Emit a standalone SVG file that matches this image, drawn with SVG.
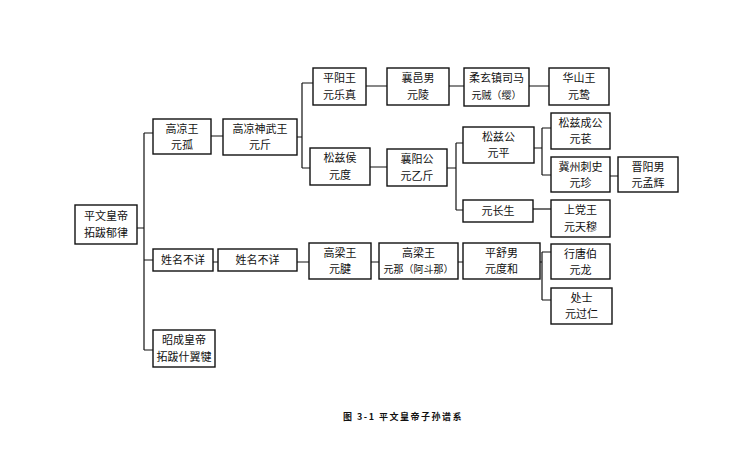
<svg xmlns="http://www.w3.org/2000/svg" width="743" height="459" viewBox="0 0 743 459">
<style>
.b{fill:#fff;stroke:#111;stroke-width:1.4}
.t{font-family:"Noto Sans CJK SC","Noto Sans CJK JP",sans-serif;font-size:11px;fill:#111;text-anchor:middle}
.s{font-size:10px}
.c{fill:none;stroke:#111;stroke-width:1.2}
.cap{font-family:"Noto Sans CJK SC",sans-serif;font-size:9px;fill:#111;font-weight:bold;letter-spacing:1.5px}
</style>
<rect width="743" height="459" fill="#fff"/>
<g id="connectors" class="c">
<path d="M137,228H144M144,133V350M144,133H153M144,260H153M144,350H153"/>
<path d="M211,136H223M297,137H302M302,83V168M302,83H313M302,168H310"/>
<path d="M366,86H387M449,86H464M529,86H549"/>
<path d="M370,167H387M447,168H456M456,143V210M456,143H463M456,210H463"/>
<path d="M534,148H542M542,128V175M542,128H551M542,175H551M610,176H618"/>
<path d="M533,209H551"/>
<path d="M213,262H218M297,262H309M371,262H379M458,262H463M540,262H542M542,252V300M542,252H551M542,300H551"/>
</g>
<g id="root"><rect class="b" x="75" y="205" width="62" height="39"/><text class="t" x="106" y="220">平文皇帝</text><text class="t" x="106" y="237">拓跋郁律</text></g>
<g id="gaoliangwang"><rect class="b" x="153" y="119" width="58" height="35"/><text class="t" x="182" y="133">高凉王</text><text class="t" x="182" y="149">元孤</text></g>
<g id="gaoliangshenwu"><rect class="b" x="223" y="119" width="74" height="36"/><text class="t" x="260" y="133">高凉神武王</text><text class="t" x="260" y="149">元斤</text></g>
<g id="pingyang"><rect class="b" x="313" y="68" width="53" height="37"/><text class="t" x="339.5" y="82">平阳王</text><text class="t" x="339.5" y="99">元乐真</text></g>
<g id="xiangyi"><rect class="b" x="387" y="68" width="62" height="37"/><text class="t" x="418" y="82">襄邑男</text><text class="t" x="418" y="99">元陵</text></g>
<g id="rouxuan"><rect class="b" x="464" y="68" width="65" height="38"/><text class="t" x="496.5" y="82">柔玄镇司马</text><text class="t s" x="496.5" y="99">元贼（缨）</text></g>
<g id="huashan"><rect class="b" x="549" y="68" width="60" height="37"/><text class="t" x="579" y="82">华山王</text><text class="t" x="579" y="99">元鸷</text></g>
<g id="songzihou"><rect class="b" x="310" y="148" width="60" height="37"/><text class="t" x="340" y="162">松兹侯</text><text class="t" x="340" y="179">元度</text></g>
<g id="xiangyang"><rect class="b" x="387" y="149" width="60" height="37"/><text class="t" x="417" y="163">襄阳公</text><text class="t" x="417" y="180">元乙斤</text></g>
<g id="songzigong"><rect class="b" x="463" y="127" width="71" height="36"/><text class="t" x="498.5" y="141">松兹公</text><text class="t" x="498.5" y="157">元平</text></g>
<g id="songzicheng"><rect class="b" x="551" y="113" width="59" height="36"/><text class="t" x="580.5" y="127">松兹成公</text><text class="t" x="580.5" y="143">元苌</text></g>
<g id="jizhou"><rect class="b" x="551" y="157" width="59" height="35"/><text class="t" x="580.5" y="171">冀州刺史</text><text class="t" x="580.5" y="187">元珍</text></g>
<g id="jinyang"><rect class="b" x="618" y="157" width="60" height="35"/><text class="t" x="648" y="171">晋阳男</text><text class="t" x="648" y="187">元孟辉</text></g>
<g id="changsheng"><rect class="b" x="463" y="200" width="70" height="22"/><text class="t" x="498" y="215">元长生</text></g>
<g id="shangdang"><rect class="b" x="551" y="200" width="59" height="37"/><text class="t" x="580.5" y="214">上党王</text><text class="t" x="580.5" y="231">元天穆</text></g>
<g id="unknown1"><rect class="b" x="153" y="249" width="60" height="22"/><text class="t" x="183" y="264">姓名不详</text></g>
<g id="unknown2"><rect class="b" x="218" y="249" width="79" height="22"/><text class="t" x="257.5" y="264">姓名不详</text></g>
<g id="gaoliang1"><rect class="b" x="309" y="243" width="62" height="36"/><text class="t" x="340" y="257">高梁王</text><text class="t" x="340" y="273">元腱</text></g>
<g id="gaoliang2"><rect class="b" x="379" y="243" width="79" height="36"/><text class="t" x="418.5" y="257">高梁王</text><text class="t s" x="418.5" y="273">元那（阿斗那）</text></g>
<g id="pingshu"><rect class="b" x="463" y="243" width="77" height="36"/><text class="t" x="501.5" y="257">平舒男</text><text class="t" x="501.5" y="273">元度和</text></g>
<g id="xingtang"><rect class="b" x="551" y="244" width="59" height="35"/><text class="t" x="580.5" y="258">行唐伯</text><text class="t" x="580.5" y="274">元龙</text></g>
<g id="chushi"><rect class="b" x="551" y="288" width="61" height="36"/><text class="t" x="581.5" y="302">处士</text><text class="t" x="581.5" y="318">元过仁</text></g>
<g id="zhaocheng"><rect class="b" x="153" y="330" width="62" height="37"/><text class="t" x="184" y="344">昭成皇帝</text><text class="t" x="184" y="361">拓跋什翼犍</text></g>
<text class="cap" x="343" y="420">图 3-1  平文皇帝子孙谱系</text>
</svg>
